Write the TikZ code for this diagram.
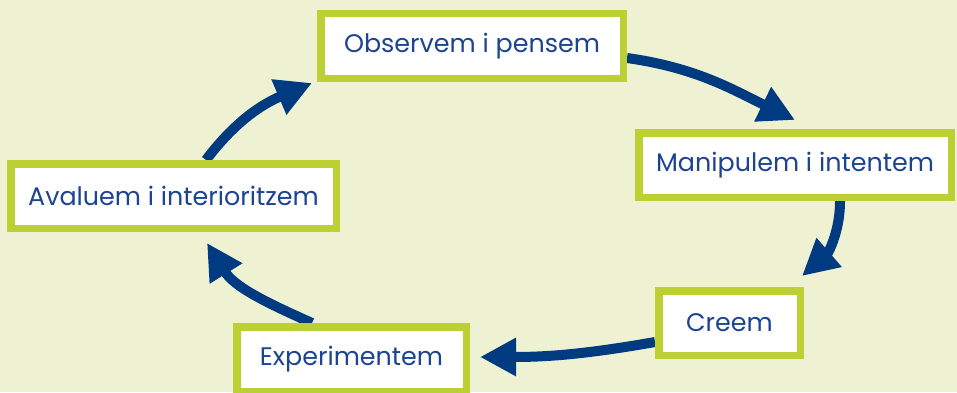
\documentclass[tikz,border=0pt]{standalone}
\usepackage{fontspec}
\setmainfont{Poppins}
\usetikzlibrary{arrows.meta,backgrounds}
\definecolor{fons}{RGB}{238,242,211}
\definecolor{verd}{RGB}{189,208,51}
\definecolor{blautext}{RGB}{28,68,145}
\definecolor{blaufletxa}{RGB}{0,58,128}
\begin{document}
\begin{tikzpicture}[x=0.5pt,y=0.5pt,
        caixa/.style={draw=verd, line width=3.75pt, fill=white, text=blautext, inner sep=0pt, minimum height=32.25pt, font=\fontsize{12.7}{15}\selectfont},
        fletxa/.style={draw=blaufletxa, line width=5pt, -{Triangle[length=18pt,width=18pt]}}]
    \useasboundingbox (0,0) rectangle (957,392);
    \begin{scope}[on background layer]
        \fill[fons] (0,0) rectangle (957,392);
    \end{scope}
    \node[caixa, minimum width=151.25pt] (observem) at (472,346) {Observem i pensem};
    \node[caixa, minimum width=156.25pt] (manipulem) at (795,227) {Manipulem i intentem};
    \node[caixa, minimum width=70.75pt] (creem) at (729.5,69) {Creem};
    \node[caixa, minimum width=114.75pt] (experimentem) at (351.5,33) {Experimentem};
    \node[caixa, minimum width=162.75pt] (avaluem) at (173.5,196) {Avaluem i interioritzem};
    \coordinate (puntaA) at (795,272);
    \coordinate (puntaB) at (802,116);
    \coordinate (puntaC) at (480,35);
    \coordinate (puntaD) at (207,149);
    \coordinate (puntaE) at (312,309);
    \begin{scope}[on background layer]
        \draw[fletxa] ([yshift=-6pt]observem.east) to[out=-8,in=154] (puntaA);
        \draw[fletxa] ([xshift=22.5pt]manipulem.south) to[out=-90,in=41] (puntaB);
        \draw[fletxa] ([yshift=-9.5pt]creem.west) to[out=190,in=0] (puntaC);
        \draw[fletxa] ([xshift=-19.75pt]experimentem.north) to[out=156,in=-58] (puntaD);
        \draw[fletxa] ([xshift=16.25pt]avaluem.north) to[out=53,in=203] (puntaE);
    \end{scope}
\end{tikzpicture}
\end{document}
